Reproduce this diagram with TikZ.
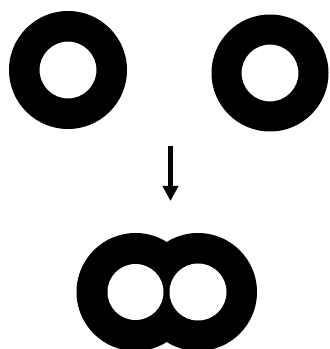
\documentclass[tikz,border=0pt]{standalone}
\usetikzlibrary{arrows.meta}

\begin{document}
\begin{tikzpicture}[
  x=1pt, y=1pt,
  ring/.style  = {fill=black, even odd rule},
  hole/.style  = {fill=white},
  ln/.style    = {-{Triangle[width=15pt, length=15pt]}, draw=black, line width=5.6pt},
]
\useasboundingbox (0,0) rectangle (330,349);
\clip (0,0) rectangle (330,349);

% --- the two separate rings ----------------------------------------------------------------------
\coordinate (ringL) at (68,279);
\coordinate (ringR) at (270,276);
\fill[ring] (ringL) circle[radius=59] (ringL) circle[radius=28.5];
\fill[ring] (ringR) circle[radius=58.5] (ringR) circle[radius=28.5];

% --- the arrow -----------------------------------------------------------------------------------
\coordinate (top) at (170.5,202.5);
\coordinate (bot) at (170.5,148);
\draw[ln] (top) -- (bot);

% --- the merged pair -----------------------------------------------------------------------------
\coordinate (pairL) at (135.5,57);
\coordinate (pairR) at (198,57);
\fill[black] (pairL) circle[radius=59] (pairR) circle[radius=59];
\fill[hole] (pairL) circle[radius=28] (pairR) circle[radius=28.5];

\end{tikzpicture}
\end{document}
